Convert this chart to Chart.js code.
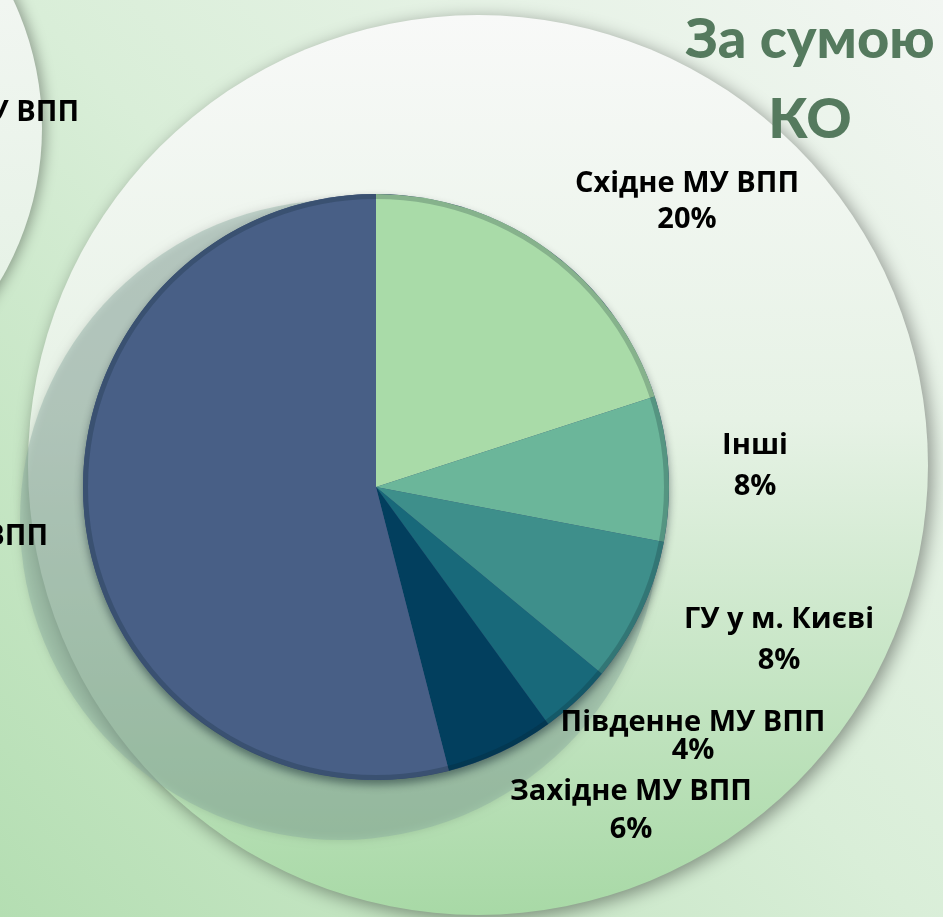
<!DOCTYPE html>
<html>
<head>
<meta charset="utf-8">
<script src="https://cdn.jsdelivr.net/npm/chart.js@4.4.0/dist/chart.umd.min.js"></script>
<style>
  html, body { margin: 0; padding: 0; width: 943px; height: 917px; overflow: hidden; background: #dcefdc; }
  #wrap { position: relative; width: 943px; height: 917px; }
  #pieChart { position: absolute; left: 0; top: 0; }
  #title {
    position: absolute; left: 660px; top: -3px; width: 300px;
    text-align: center; color: #557a5e;
    font: 900 56px Lato, "Open Sans", sans-serif; line-height: 80px;
  }
</style>
</head>
<body>
<div id="wrap">
  <canvas id="pieChart" width="943" height="917"></canvas>
  <div id="title">За сумою<br>КО</div>
</div>
<script>
// data, clockwise from 12 o'clock
const categories = ['Східне МУ ВПП', 'Інші', 'ГУ у м. Києві', 'Південне МУ ВПП', 'Західне МУ ВПП', 'Центральне МУ ВПП'];
const shares = [20, 8, 8, 4, 6, 54];
const sliceColors = ['#a9dba8', '#6bb69a', '#3e8f8b', '#18697a', '#023f5e', '#485f86'];

// where each label sits, relative to pie centre: [dx, dy of first line, gap to 2nd line]
const labelLayout = [
  [311, -303, 36],
  [379, -41, 41],
  [403, 133, 41],
  [317, 236, 28],
  [255, 305, 38],
  [-482, 50, 38]
];

// decorative slide background
const backdrop = {
  id: 'backdrop',
  beforeDraw(chart) {
    const ctx = chart.ctx;
    ctx.save();
    let g = ctx.createLinearGradient(943, 0, 0, 917);
    g.addColorStop(0, '#f2f6f2');
    g.addColorStop(0.5, '#d9eed8');
    g.addColorStop(1, '#b4deb2');
    ctx.fillStyle = g;
    ctx.fillRect(0, 0, 943, 917);

    // left circle (neighbour chart)
    ctx.shadowColor = 'rgba(0,0,0,0.35)';
    ctx.shadowBlur = 14;
    ctx.shadowOffsetX = 3;
    g = ctx.createLinearGradient(0, 0, 0, 430);
    g.addColorStop(0, '#f1f6f1');
    g.addColorStop(1, '#e1f0e1');
    ctx.fillStyle = g;
    ctx.beginPath();
    ctx.arc(-258, 128, 300, 0, Math.PI * 2);
    ctx.fill();

    // big circle
    ctx.shadowColor = 'rgba(0,0,0,0.4)';
    ctx.shadowBlur = 18;
    ctx.shadowOffsetX = 4;
    ctx.shadowOffsetY = 4;
    g = ctx.createLinearGradient(0, 15, 0, 915);
    g.addColorStop(0, '#f8f9f8');
    g.addColorStop(0.45, '#e6f2e5');
    g.addColorStop(1, '#a8d9a6');
    ctx.fillStyle = g;
    ctx.beginPath();
    ctx.arc(478, 465, 450, 0, Math.PI * 2);
    ctx.fill();

    // shadow disc behind the pie
    ctx.shadowColor = 'rgba(0,0,0,0.3)';
    ctx.shadowBlur = 8;
    ctx.shadowOffsetX = 0;
    ctx.shadowOffsetY = 0;
    ctx.fillStyle = 'rgba(135,170,160,0.4)';
    ctx.beginPath();
    ctx.arc(340, 520, 320, 0, Math.PI * 2);
    ctx.fill();
    ctx.restore();

    // cut label from the left chart
    ctx.save();
    ctx.font = 'bold 29px "Open Sans", sans-serif';
    ctx.fillStyle = '#000';
    ctx.textAlign = 'right';
    ctx.textBaseline = 'middle';
    ctx.fillText('МУ ВПП', 79, 113);
    ctx.restore();
  },
  beforeDatasetsDraw(chart) {
    const arc = chart.getDatasetMeta(0).data[0];
    if (!arc) return;
    const ctx = chart.ctx;
    ctx.save();
    ctx.shadowColor = 'rgba(0,20,30,0.45)';
    ctx.shadowBlur = 8;
    ctx.shadowOffsetY = 5;
    ctx.fillStyle = '#3d5277';
    ctx.beginPath();
    ctx.arc(arc.x, arc.y, arc.outerRadius, 0, Math.PI * 2);
    ctx.fill();
    ctx.restore();
  },
  afterDatasetsDraw(chart) {
    const meta = chart.getDatasetMeta(0);
    const ctx = chart.ctx;
    const a0 = meta.data[0];
    // darker bevel rim
    ctx.save();
    ctx.strokeStyle = 'rgba(10,30,40,0.22)';
    ctx.lineWidth = 5;
    ctx.beginPath();
    ctx.arc(a0.x, a0.y, a0.outerRadius - 2.5, 0, Math.PI * 2);
    ctx.stroke();
    ctx.restore();

    ctx.save();
    ctx.font = 'bold 29px "Open Sans", sans-serif';
    ctx.fillStyle = '#000';
    ctx.textAlign = 'center';
    ctx.textBaseline = 'middle';
    meta.data.forEach((el, i) => {
      const [dx, dy, gap] = labelLayout[i];
      ctx.fillText(categories[i], el.x + dx, el.y + dy);
      ctx.fillText(shares[i] + '%', el.x + dx, el.y + dy + gap);
    });
    ctx.restore();
  }
};

new Chart(document.getElementById('pieChart').getContext('2d'), {
  type: 'pie',
  data: {
    labels: categories,
    datasets: [{
      data: shares,
      backgroundColor: sliceColors,
      borderWidth: 0
    }]
  },
  options: {
    responsive: false,
    animation: false,
    layout: { padding: { left: 83, right: 274, top: 194, bottom: 137 } },
    plugins: {
      legend: { display: false },
      tooltip: { enabled: false }
    }
  },
  plugins: [backdrop]
});
</script>
</body>
</html>
